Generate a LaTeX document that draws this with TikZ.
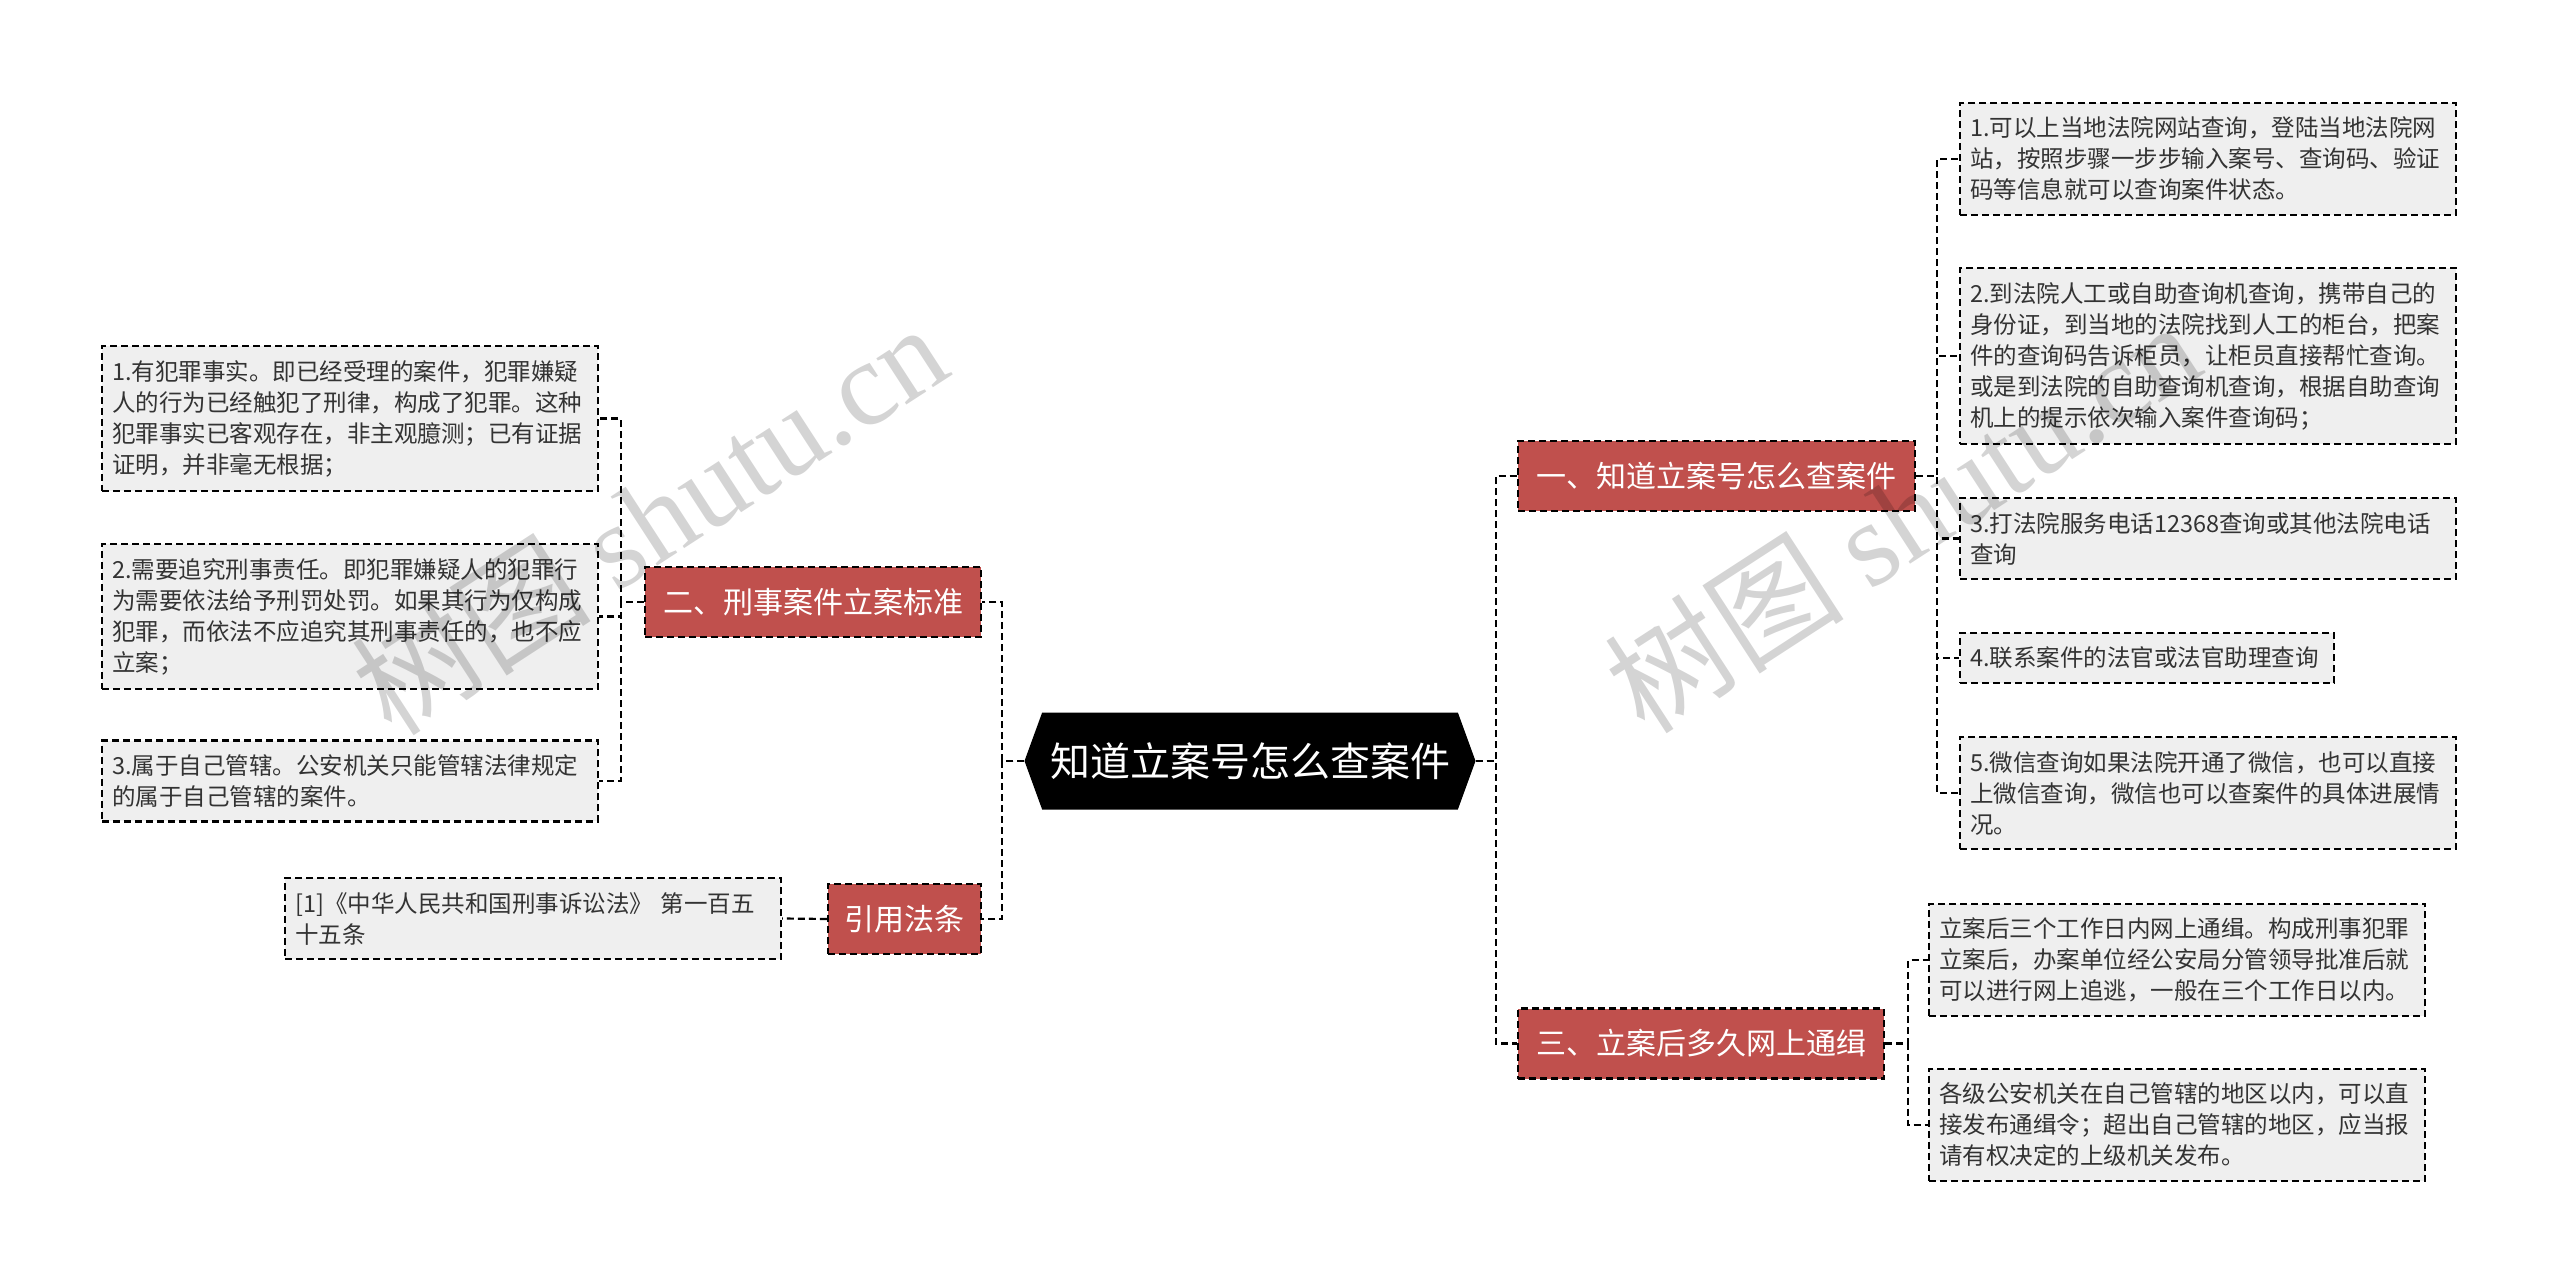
\documentclass[tikz,border=0pt]{standalone}
\usepackage{fontspec}
\setmainfont{Noto Sans CJK SC}
\newfontfamily\wmserif{Liberation Serif}
\usetikzlibrary{shapes.symbols}
\definecolor{branchred}{HTML}{C0504D}
\definecolor{leafgray}{HTML}{EFEFEF}
\definecolor{leaftext}{HTML}{333333}
\begin{document}
\begin{tikzpicture}[x=1pt,y=-1pt,
 dashline/.style={line width=2.2pt, dash pattern=on 7pt off 4pt},
 conn/.style={draw=black, dashline},
 rootnode/.style={signal, signal to=west and east, signal pointer angle=140, fill=black, text=white, font=\fontsize{40}{48}\selectfont, minimum height=97pt, minimum width=451pt, inner xsep=0pt},
 branch/.style={fill=branchred, draw=black, dashline, text=white, font=\fontsize{30}{36}\selectfont, minimum height=70pt, inner xsep=0pt},
 leaf/.style={fill=leafgray, draw=black, dashline, text=leaftext, font=\fontsize{23.5}{31}\selectfont, align=left, anchor=west, inner xsep=10pt, inner ysep=14pt},
 wide/.style={text width=476pt},
 watermark/.style={rotate=33, text=black, text opacity=0.17, font=\fontsize{120}{120}\selectfont},
]
\useasboundingbox[fill=white] (0,0) rectangle (2560,1287);

% root
\node[rootnode] (c) at (1250,761) {知道立案号怎么查案件};

% branches
\node[branch, minimum width=397pt] (b1) at (1716.5,476) {一、知道立案号怎么查案件};
\node[branch, minimum width=336pt] (b2) at (813,602) {二、刑事案件立案标准};
\node[branch, minimum width=366pt] (b3) at (1701,1043.5) {三、立案后多久网上通缉};
\node[branch, minimum width=153pt] (b4) at (904.5,919) {引用法条};

% right leaves of b1
\node[leaf, wide] (r1) at (1959,159) {1.可以上当地法院网站查询，登陆当地法院网\\站，按照步骤一步步输入案号、查询码、验证\\码等信息就可以查询案件状态。};
\node[leaf, wide] (r2) at (1959,356) {2.到法院人工或自助查询机查询，携带自己的\\身份证，到当地的法院找到人工的柜台，把案\\件的查询码告诉柜员，让柜员直接帮忙查询。\\或是到法院的自助查询机查询，根据自助查询\\机上的提示依次输入案件查询码；};
\node[leaf, wide] (r3) at (1959,538.5) {3.打法院服务电话12368查询或其他法院电话\\查询};
\node[leaf, text width=354pt] (r4) at (1959,658) {4.联系案件的法官或法官助理查询};
\node[leaf, wide] (r5) at (1959,793) {5.微信查询如果法院开通了微信，也可以直接\\上微信查询，微信也可以查案件的具体进展情\\况。};

% leaves of b3
\node[leaf, wide] (a1) at (1928,960) {立案后三个工作日内网上通缉。构成刑事犯罪\\立案后，办案单位经公安局分管领导批准后就\\可以进行网上追逃，一般在三个工作日以内。};
\node[leaf, wide] (a2) at (1928,1125) {各级公安机关在自己管辖的地区以内，可以直\\接发布通缉令；超出自己管辖的地区，应当报\\请有权决定的上级机关发布。};

% leaves of b2
\node[leaf, wide] (l1) at (101,418.5) {1.有犯罪事实。即已经受理的案件，犯罪嫌疑\\人的行为已经触犯了刑律，构成了犯罪。这种\\犯罪事实已客观存在，非主观臆测；已有证据\\证明，并非毫无根据；};
\node[leaf, wide] (l2) at (101,616.5) {2.需要追究刑事责任。即犯罪嫌疑人的犯罪行\\为需要依法给予刑罚处罚。如果其行为仅构成\\犯罪，而依法不应追究其刑事责任的，也不应\\立案；};
\node[leaf, wide] (l3) at (101,781) {3.属于自己管辖。公安机关只能管辖法律规定\\的属于自己管辖的案件。};

% citation leaf
\node[leaf, wide] (ct) at (284,918.5) {[1]《中华人民共和国刑事诉讼法》 第一百五\\十五条};

% connectors root -> branches
\draw[conn] (c.east) -- ++(20,0) |- (b1.west);
\draw[conn] (c.east) -- ++(20,0) |- (b3.west);
\draw[conn] (c.west) -- ++(-22,0) |- (b2.east);
\draw[conn] (c.west) -- ++(-22,0) |- (b4.east);

% b1 -> leaves
\foreach \n in {r1,r2,r3,r4,r5} {
  \draw[conn] (b1.east) -- ++(21,0) |- (\n.west);
}
% b3 -> leaves
\foreach \n in {a1,a2} {
  \draw[conn] (b3.east) -- ++(23,0) |- (\n.west);
}
% b2 -> leaves
\foreach \n in {l1,l2,l3} {
  \draw[conn] (b2.west) -- ++(-23,0) |- (\n.east);
}
% b4 -> citation
\draw[conn] (b4.west) -- (ct.east);

% watermarks
\node[watermark] (wm1) at (649,518) {树图 {\wmserif shutu.cn}};
\node[watermark] (wm2) at (1902,516) {树图 {\wmserif shutu.cn}};
\end{tikzpicture}
\end{document}
